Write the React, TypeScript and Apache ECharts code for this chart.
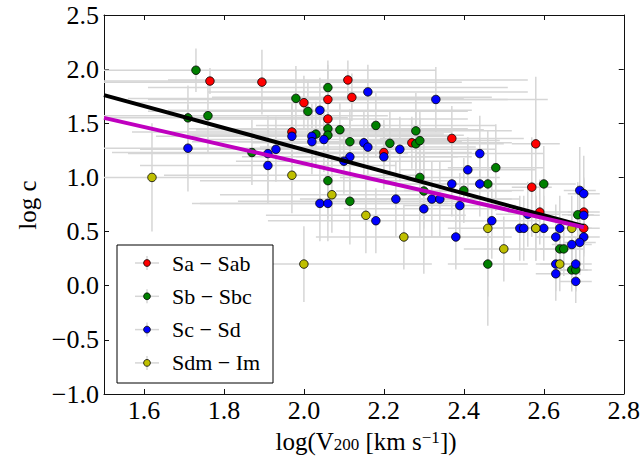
import React, { useEffect, useRef } from "react";
import * as echarts from "echarts";

// [logV200, logc, xerr, yerr]
const saSab: number[][] = [
  [1.765, 1.89, 0.5, 0.12], [1.895, 1.88, 0.5, 0.3], [2.11, 1.9, 0.45, 0.18],
  [2.0, 1.69, 0.42, 0.25], [2.06, 1.72, 0.45, 0.32], [2.12, 1.74, 0.35, 0.22],
  [2.06, 1.54, 0.35, 0.36], [1.97, 1.42, 0.4, 0.28], [2.27, 1.32, 0.25, 0.24],
  [2.2, 1.23, 0.22, 0.3], [2.37, 1.36, 0.18, 0.3], [2.58, 1.31, 0.06, 0.62],
  [2.57, 0.91, 0.05, 0.46], [2.59, 0.68, 0.08, 0.3], [2.7, 0.68, 0.04, 0.3],
  [2.7, 0.53, 0.04, 0.26],
];
const sbSbc: number[][] = [
  [1.73, 1.99, 0.6, 0.2], [1.71, 1.55, 0.4, 0.3], [1.76, 1.57, 0.45, 0.35],
  [1.87, 1.23, 0.35, 0.3], [2.06, 1.83, 0.45, 0.25], [1.98, 1.73, 0.42, 0.3],
  [2.01, 1.61, 0.4, 0.28], [2.18, 1.48, 0.3, 0.3], [2.06, 1.45, 0.35, 0.3],
  [2.09, 1.44, 0.36, 0.25], [2.28, 1.43, 0.24, 0.35], [2.03, 1.4, 0.32, 0.3],
  [2.06, 1.39, 0.34, 0.28], [2.115, 1.33, 0.28, 0.3], [2.215, 1.315, 0.24, 0.3],
  [2.28, 1.31, 0.22, 0.3], [2.29, 1.34, 0.2, 0.28], [2.29, 1.0, 0.2, 0.55],
  [2.06, 0.97, 0.32, 0.35], [2.115, 0.78, 0.28, 0.4], [2.3, 0.875, 0.22, 0.35],
  [2.48, 1.09, 0.12, 0.4], [2.46, 0.94, 0.1, 0.3], [2.6, 0.94, 0.08, 0.35],
  [2.4, 0.88, 0.15, 0.3], [2.46, 0.2, 0.1, 0.3], [2.685, 0.655, 0.04, 0.3],
  [2.64, 0.34, 0.05, 0.25], [2.65, 0.34, 0.05, 0.25], [2.67, 0.146, 0.04, 0.2],
  [2.68, 0.146, 0.04, 0.2],
];
const scSd: number[][] = [
  [1.71, 1.27, 0.35, 0.4], [1.91, 1.22, 0.35, 0.35], [1.91, 1.11, 0.32, 0.35],
  [1.93, 1.26, 0.34, 0.3], [2.16, 1.79, 0.4, 0.25], [2.33, 1.72, 0.28, 0.3],
  [2.04, 1.62, 0.38, 0.3], [1.97, 1.38, 0.34, 0.3], [2.02, 1.38, 0.34, 0.3],
  [2.05, 1.35, 0.32, 0.3], [2.02, 1.33, 0.3, 0.3], [2.15, 1.32, 0.28, 0.3],
  [2.16, 1.28, 0.27, 0.3], [2.24, 1.26, 0.24, 0.3], [2.2, 1.19, 0.22, 0.3],
  [2.115, 1.19, 0.27, 0.35], [2.1, 1.15, 0.27, 0.3], [2.04, 0.76, 0.32, 0.35],
  [2.06, 0.76, 0.32, 0.35], [2.23, 0.8, 0.24, 0.35], [2.3, 0.71, 0.2, 0.6],
  [2.32, 0.8, 0.2, 0.35], [2.34, 0.8, 0.2, 0.35], [2.18, 0.6, 0.27, 0.3],
  [2.44, 1.22, 0.16, 0.35], [2.41, 1.07, 0.17, 0.3], [2.37, 0.94, 0.17, 0.3],
  [2.44, 0.94, 0.12, 0.3], [2.69, 0.88, 0.04, 0.4], [2.7, 0.85, 0.04, 0.35],
  [2.39, 0.74, 0.14, 0.3], [2.47, 0.6, 0.12, 0.35], [2.38, 0.45, 0.14, 0.3],
  [2.54, 0.53, 0.08, 0.3], [2.55, 0.53, 0.08, 0.3], [2.58, 0.53, 0.07, 0.3],
  [2.6, 0.53, 0.07, 0.3], [2.56, 0.66, 0.08, 0.3], [2.64, 0.53, 0.05, 0.3],
  [2.7, 0.65, 0.04, 0.35], [2.63, 0.45, 0.05, 0.3], [2.7, 0.45, 0.04, 0.3],
  [2.69, 0.4, 0.04, 0.3], [2.67, 0.38, 0.05, 0.3], [2.63, 0.2, 0.05, 0.25],
  [2.68, 0.2, 0.04, 0.25], [2.63, 0.11, 0.05, 0.25], [2.68, 0.04, 0.04, 0.2],
];
const sdmIm: number[][] = [
  [1.62, 1.0, 0.25, 0.5], [1.97, 1.02, 0.32, 0.35], [2.07, 0.84, 0.28, 0.35],
  [2.155, 0.65, 0.25, 0.35], [2.25, 0.45, 0.22, 0.3], [2.0, 0.2, 0.32, 0.35],
  [2.46, 0.53, 0.1, 0.9], [2.5, 0.34, 0.1, 0.3], [2.58, 0.53, 0.07, 0.3],
  [2.67, 0.53, 0.05, 0.3], [2.64, 0.2, 0.05, 0.25],
];
const fitBlack: number[][] = [[1.5, 1.76], [2.7, 0.55]];
const fitMagenta: number[][] = [[1.5, 1.55], [2.7, 0.54]];

const classNames = ["Sa \u2212 Sab", "Sb \u2212 Sbc", "Sc \u2212 Sd", "Sdm \u2212 Im"];
const classColors = ["#ff0000", "#008000", "#0000ff", "#bfbf00"];
const classData = [saSab, sbSbc, scSd, sdmIm];
const xTicks = [1.6, 1.8, 2.0, 2.2, 2.4, 2.6, 2.8];

const X_MIN = 1.5, X_MAX = 2.8, Y_MIN = -1.0, Y_MAX = 2.5;
const FONT = "Liberation Serif";

const fmtTick = (v: number) => (v < 0 ? "\u2212" + Math.abs(v).toFixed(1) : v.toFixed(1));

export default function App() {
  const ref = useRef<HTMLDivElement>(null);
  useEffect(() => {
    if (!ref.current) return;
    const chart = echarts.init(ref.current, null, { renderer: "svg" });
    const allPoints = ([] as number[][]).concat(...classData);
    const clamp = (v: number, a: number, b: number) => Math.max(a, Math.min(b, v));
    const errStyle = { stroke: "#d6d6d6", lineWidth: 1.5 };

    const axisCommon = {
      axisLine: { show: true, onZero: false, lineStyle: { color: "#111", width: 1 } },
      splitLine: { show: false },
    };

    const legendChildren: any[] = [
      {
        type: "rect",
        shape: { x: 117, y: 245, width: 156, height: 138 },
        style: { fill: "#fff", stroke: "#000", lineWidth: 1 },
      },
    ];
    classNames.forEach((name, i) => {
      const cy = 263 + i * 33.3;
      legendChildren.push(
        { type: "line", shape: { x1: 135, y1: cy, x2: 159, y2: cy }, style: errStyle },
        { type: "line", shape: { x1: 147, y1: cy - 7, x2: 147, y2: cy + 7 }, style: errStyle },
        { type: "circle", shape: { cx: 147, cy, r: 3.4 }, style: { fill: classColors[i], stroke: "#000", lineWidth: 0.8 } },
        {
          type: "text",
          x: 172,
          y: cy,
          style: {
            text: name,
            fontSize: 22,
            fontFamily: FONT,
            fill: "#000",
            verticalAlign: "middle",
            align: "left",
          },
        }
      );
    });

    chart.setOption({
      animation: false,
      backgroundColor: "#fff",
      grid: { left: 104, right: 18, top: 15, bottom: 68, containLabel: false },
      xAxis: [
        {
          type: "value", min: X_MIN, max: X_MAX, position: "bottom", ...axisCommon,
          axisTick: { show: true, inside: true, length: 5, customValues: xTicks, lineStyle: { color: "#111" } },
          axisLabel: {
            show: true, customValues: xTicks, formatter: fmtTick, fontSize: 26, fontFamily: FONT,
            color: "#000", margin: 4, lineHeight: 24,
          },
        },
        {
          type: "value", min: X_MIN, max: X_MAX, position: "top", ...axisCommon,
          axisTick: { show: true, inside: true, length: 5, customValues: xTicks, lineStyle: { color: "#111" } },
          axisLabel: { show: false },
        },
      ],
      yAxis: [
        {
          type: "value", min: Y_MIN, max: Y_MAX, interval: 0.5, position: "left", ...axisCommon,
          axisTick: { show: true, inside: true, length: 5, lineStyle: { color: "#111" } },
          axisLabel: { show: true, formatter: fmtTick, fontSize: 26, fontFamily: FONT, color: "#000", margin: 5 },
        },
        {
          type: "value", min: Y_MIN, max: Y_MAX, interval: 0.5, position: "right", ...axisCommon,
          axisTick: { show: true, inside: true, length: 5, lineStyle: { color: "#111" } },
          axisLabel: { show: false },
        },
      ],
      series: [
        {
          type: "custom",
          name: "errors",
          z: 1,
          silent: true,
          data: allPoints,
          encode: { x: 0, y: 1 },
          renderItem: (params: any, api: any) => {
            const x = api.value(0), y = api.value(1), xe = api.value(2), ye = api.value(3);
            const a = api.coord([clamp(x - xe, X_MIN, X_MAX), y]);
            const b = api.coord([clamp(x + xe, X_MIN, X_MAX), y]);
            const c = api.coord([x, clamp(y - ye, Y_MIN, Y_MAX)]);
            const d = api.coord([x, clamp(y + ye, Y_MIN, Y_MAX)]);
            return {
              type: "group",
              children: [
                { type: "line", shape: { x1: a[0], y1: a[1], x2: b[0], y2: b[1] }, style: errStyle },
                { type: "line", shape: { x1: c[0], y1: c[1], x2: d[0], y2: d[1] }, style: errStyle },
              ],
            };
          },
        },
        ...classData.map((data, i) => ({
          type: "scatter",
          name: classNames[i],
          z: 3,
          data: data.map((p) => [p[0], p[1]]),
          symbol: "circle",
          symbolSize: 8.5,
          itemStyle: { color: classColors[i], borderColor: "#000", borderWidth: 0.8, opacity: 1 },
        })),
        {
          type: "line", name: "fit1", z: 4, data: fitBlack, symbol: "none",
          lineStyle: { color: "#000", width: 4 },
        },
        {
          type: "line", name: "fit2", z: 5, data: fitMagenta, symbol: "none",
          lineStyle: { color: "#bf00bf", width: 4 },
        },
      ],
      graphic: [
        ...legendChildren.map((c) => ({ ...c, z: 100 })),
        {
          type: "text",
          x: 366,
          y: 441,
          z: 100,
          style: {
            text: "{a|log(V}{b|200}{a| [km s}{c|\u22121}{a|])}",
            align: "center",
            verticalAlign: "middle",
            fill: "#000",
            rich: {
              a: { fontSize: 25, fontFamily: FONT, lineHeight: 24, verticalAlign: "middle" },
              b: { fontSize: 17, fontFamily: FONT, lineHeight: 14, verticalAlign: "bottom" },
              c: { fontSize: 17, fontFamily: FONT, lineHeight: 14, verticalAlign: "top" },
            },
          },
        },
        {
          type: "text",
          x: 27,
          y: 205,
          rotation: Math.PI / 2,
          z: 100,
          style: {
            text: "log c",
            fontSize: 25,
            fontFamily: FONT,
            fill: "#000",
            align: "center",
            verticalAlign: "middle",
          },
        },
      ],
    });
    return () => chart.dispose();
  }, []);
  return (
    <div
      ref={ref}
      style={{ position: "absolute", left: 0, top: 0, width: 643, height: 462 }}
    />
  );
}
